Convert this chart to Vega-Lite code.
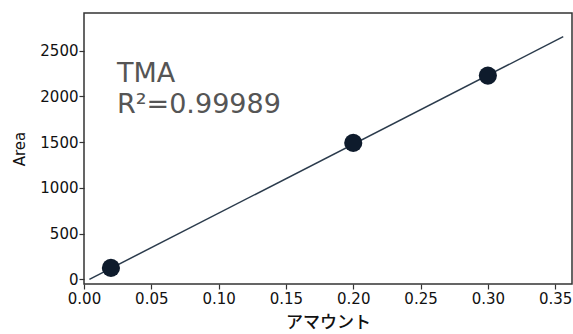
{
  "$schema": "https://vega.github.io/schema/vega-lite/v6.json",
  "width": 488,
  "height": 271,
  "autosize": {"type": "none"},
  "padding": {"left": 84, "top": 13, "right": 1, "bottom": 50},
  "background": "#ffffff",
  "config": {
    "view": {"stroke": "#333333", "strokeWidth": 1.5},
    "axis": {
      "domain": false,
      "grid": false,
      "tickColor": "#333333",
      "tickSize": 5,
      "tickWidth": 1.2,
      "labelFont": "DejaVu Sans",
      "labelFontSize": 15,
      "labelColor": "#111111",
      "labelFlush": false,
      "titleColor": "#111111",
      "titleFontWeight": "normal"
    }
  },
  "datasets": {
    "points": [
      {"amount": 0.02, "area": 125},
      {"amount": 0.2, "area": 1492},
      {"amount": 0.3, "area": 2228}
    ],
    "fit": [
      {"amount": 0.004, "area": 0},
      {"amount": 0.356, "area": 2653}
    ],
    "labels": [
      {"amount": 0.0245, "area": 2161, "label": "TMA"},
      {"amount": 0.0245, "area": 1815, "label": "R²=0.99989"}
    ]
  },
  "layer": [
    {
      "data": {"name": "fit"},
      "mark": {"type": "line", "color": "#2b3b4c", "strokeWidth": 1.5},
      "encoding": {
        "x": {
          "field": "amount", "type": "quantitative",
          "scale": {"domain": [0, 0.3625], "nice": false, "zero": false},
          "axis": {"values": [0, 0.05, 0.1, 0.15, 0.2, 0.25, 0.3, 0.35], "format": ".2f", "title": "アマウント", "titleFont": "Noto Sans CJK JP", "titleFontSize": 17, "titleFontWeight": 500, "titlePadding": 8, "labelPadding": 2}
        },
        "y": {
          "field": "area", "type": "quantitative",
          "scale": {"domain": [-51, 2912], "nice": false, "zero": false},
          "axis": {"values": [0, 500, 1000, 1500, 2000, 2500], "format": "d", "title": "Area", "titleFont": "DejaVu Sans", "titleFontSize": 15, "titlePadding": 12, "labelPadding": 1}
        }
      }
    },
    {
      "data": {"name": "points"},
      "mark": {"type": "point", "filled": true, "opacity": 1, "color": "#0e1b2c", "size": 330, "shape": "circle"},
      "encoding": {
        "x": {"field": "amount", "type": "quantitative"},
        "y": {"field": "area", "type": "quantitative"}
      }
    },
    {
      "data": {"name": "labels"},
      "mark": {"type": "text", "align": "left", "baseline": "alphabetic", "font": "DejaVu Sans", "fontSize": 27, "color": "#555555"},
      "encoding": {
        "x": {"field": "amount", "type": "quantitative"},
        "y": {"field": "area", "type": "quantitative"},
        "text": {"field": "label"}
      }
    }
  ]
}
